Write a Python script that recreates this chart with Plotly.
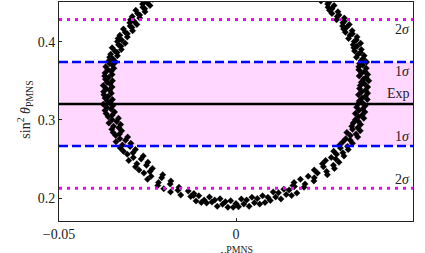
import plotly.graph_objects as go

# ---- data ----
left_x = [-0.0220,-0.0241, -0.0235,-0.0256, -0.0235,-0.0261, -0.0251,-0.0264, -0.0243,-0.0263,
          -0.0258,-0.0283, -0.0257,-0.0278, -0.0272,-0.0293, -0.0272,-0.0298, -0.0288,-0.0300,
          -0.0280,-0.0299, -0.0294,-0.0318, -0.0292,-0.0313, -0.0307,-0.0328, -0.0307,-0.0333,
          -0.0323,-0.0335, -0.0313,-0.0332, -0.0325,-0.0350, -0.0324,-0.0342, -0.0336,-0.0354,
          -0.0335,-0.0357, -0.0348,-0.0358, -0.0340,-0.0357, -0.0349,-0.0368, -0.0345,-0.0362,
          -0.0353,-0.0370, -0.0350,-0.0371, -0.0360,-0.0369, -0.0349,-0.0364, -0.0356,-0.0375,
          -0.0350,-0.0367, -0.0357,-0.0374, -0.0352,-0.0373, -0.0361,-0.0370, -0.0349,-0.0364,
          -0.0356,-0.0375, -0.0348,-0.0365, -0.0353,-0.0370, -0.0343,-0.0367, -0.0350,-0.0361,
          -0.0332,-0.0350, -0.0337,-0.0359, -0.0326,-0.0346, -0.0331,-0.0351, -0.0323,-0.0347,
          -0.0329,-0.0340, -0.0306,-0.0328, -0.0312,-0.0339, -0.0297,-0.0321, -0.0299,-0.0327,
          -0.0284,-0.0318, -0.0291,-0.0307, -0.0262,-0.0290, -0.0268,-0.0303, -0.0249,-0.0280,
          -0.0253,-0.0284, -0.0236,-0.0274, -0.0243,-0.0260, -0.0207,-0.0240, -0.0210,-0.0250,
          -0.0184,-0.0219, -0.0186,-0.0221, -0.0161,-0.0204, -0.0164,-0.0185, -0.0119,-0.0156]
left_y = [0.462,0.460, 0.458,0.456, 0.454,0.452, 0.450,0.448, 0.446,0.444,
          0.442,0.440, 0.438,0.436, 0.434,0.432, 0.430,0.428, 0.426,0.424,
          0.422,0.420, 0.418,0.416, 0.414,0.412, 0.410,0.408, 0.406,0.404,
          0.402,0.400, 0.398,0.396, 0.394,0.392, 0.390,0.388, 0.386,0.384,
          0.382,0.380, 0.378,0.376, 0.374,0.372, 0.370,0.368, 0.366,0.364,
          0.362,0.360, 0.358,0.356, 0.354,0.352, 0.350,0.348, 0.346,0.344,
          0.342,0.340, 0.338,0.336, 0.334,0.332, 0.330,0.328, 0.326,0.324,
          0.322,0.320, 0.318,0.316, 0.314,0.312, 0.310,0.308, 0.306,0.304,
          0.302,0.300, 0.298,0.296, 0.294,0.292, 0.290,0.288, 0.286,0.284,
          0.282,0.280, 0.278,0.276, 0.274,0.272, 0.270,0.268, 0.266,0.264,
          0.262,0.260, 0.258,0.256, 0.254,0.252, 0.250,0.248, 0.246,0.244,
          0.242,0.240, 0.238,0.236, 0.234,0.232, 0.230,0.228, 0.226,0.224,
          0.222,0.220, 0.218,0.216, 0.214,0.212, 0.210,0.208, 0.206,0.204]

bottom_x = [-0.0135,-0.0128, -0.0120,-0.0113, -0.0105,-0.0098, -0.0090,-0.0083, -0.0075,-0.0068,
            -0.0060,-0.0053, -0.0045,-0.0038, -0.0030,-0.0023, -0.0015,-0.0008, 0.0000,0.0007,
            0.0015,0.0022, 0.0030,0.0037, 0.0045,0.0052, 0.0060,0.0067, 0.0075,0.0082,
            0.0090,0.0097, 0.0105,0.0112, 0.0120,0.0127, 0.0135,0.0142, 0.0150,0.0157, 0.0165,0.0172]
bottom_y = [0.2090,0.2020, 0.2035,0.1965, 0.2030,0.1945, 0.1977,0.1937, 0.2015,0.1950,
            0.1975,0.1895, 0.1992,0.1922, 0.1955,0.1885, 0.1968,0.1883, 0.1930,0.1890,
            0.1990,0.1925, 0.1975,0.1895, 0.2012,0.1942, 0.1995,0.1925, 0.2030,0.1945,
            0.2010,0.1970, 0.2080,0.2015, 0.2070,0.1990, 0.2115,0.2045, 0.2105,0.2035, 0.2150,0.2065]

right_x = [0.0192,0.0161, 0.0195,0.0164, 0.0220,0.0182, 0.0221,0.0204, 0.0258,0.0230,
           0.0256,0.0221, 0.0278,0.0247, 0.0275,0.0244, 0.0291,0.0253, 0.0282,0.0269,
           0.0305,0.0284, 0.0302,0.0276, 0.0317,0.0295, 0.0315,0.0293, 0.0329,0.0302,
           0.0323,0.0310, 0.0344,0.0323, 0.0339,0.0313, 0.0351,0.0329, 0.0344,0.0327,
           0.0352,0.0331, 0.0346,0.0337, 0.0361,0.0346, 0.0356,0.0337, 0.0364,0.0347,
           0.0358,0.0341, 0.0365,0.0344, 0.0357,0.0348, 0.0371,0.0356, 0.0365,0.0346,
           0.0372,0.0355, 0.0366,0.0349, 0.0372,0.0351, 0.0363,0.0354, 0.0375,0.0360,
           0.0367,0.0348, 0.0372,0.0355, 0.0364,0.0347, 0.0368,0.0347, 0.0358,0.0349,
           0.0369,0.0354, 0.0359,0.0340, 0.0362,0.0345, 0.0352,0.0335, 0.0354,0.0333,
           0.0342,0.0331, 0.0352,0.0334, 0.0340,0.0318, 0.0342,0.0322, 0.0329,0.0309,
           0.0328,0.0304, 0.0312,0.0301, 0.0320,0.0302, 0.0306,0.0284, 0.0306,0.0286,
           0.0291,0.0271, 0.0288,0.0264, 0.0271,0.0260, 0.0277,0.0259, 0.0262,0.0240,
           0.0262,0.0242, 0.0247,0.0227, 0.0245,0.0221]
right_y = [0.214,0.216, 0.218,0.220, 0.222,0.224, 0.226,0.228, 0.230,0.232,
           0.234,0.236, 0.238,0.240, 0.242,0.244, 0.246,0.248, 0.250,0.252,
           0.254,0.256, 0.258,0.260, 0.262,0.264, 0.266,0.268, 0.270,0.272,
           0.274,0.276, 0.278,0.280, 0.282,0.284, 0.286,0.288, 0.290,0.292,
           0.294,0.296, 0.298,0.300, 0.302,0.304, 0.306,0.308, 0.310,0.312,
           0.314,0.316, 0.318,0.320, 0.322,0.324, 0.326,0.328, 0.330,0.332,
           0.334,0.336, 0.338,0.340, 0.342,0.344, 0.346,0.348, 0.350,0.352,
           0.354,0.356, 0.358,0.360, 0.362,0.364, 0.366,0.368, 0.370,0.372,
           0.374,0.376, 0.378,0.380, 0.382,0.384, 0.386,0.388, 0.390,0.392,
           0.394,0.396, 0.398,0.400, 0.402,0.404, 0.406,0.408, 0.410,0.412,
           0.414,0.416, 0.418,0.420, 0.422,0.424, 0.426,0.428, 0.430,0.432,
           0.434,0.436, 0.438,0.440, 0.442,0.444, 0.446,0.448, 0.450,0.452,
           0.454,0.456, 0.458,0.460, 0.462,0.464]

exp_value = 0.3202
one_sigma = [0.2665, 0.3739]
two_sigma = [0.2128, 0.4281]

x_ticks = [-0.05, 0, 0.05]
x_tick_labels = ["\u22120.05", "0", "0.05"]
y_ticks = [0.2, 0.3, 0.4]
y_tick_labels = ["0.2", "0.3", "0.4"]

FONT = "Liberation Serif"
TXT = "#222"

fig = go.Figure()

# pink 1-sigma band
fig.add_shape(type="rect", xref="paper", yref="y", x0=0, x1=1,
              y0=one_sigma[0], y1=one_sigma[1],
              fillcolor="rgb(255,215,255)", line_width=0, layer="below")
# lines
for v in two_sigma:
    fig.add_shape(type="line", xref="paper", yref="y", x0=0, x1=1, y0=v, y1=v,
                  line=dict(color="rgb(255,0,255)", width=3, dash="3px,5px"))
for v in one_sigma:
    fig.add_shape(type="line", xref="paper", yref="y", x0=0, x1=1, y0=v, y1=v,
                  line=dict(color="rgb(0,0,255)", width=2.5, dash="9px,4px"))
fig.add_shape(type="line", xref="paper", yref="y", x0=0, x1=1, y0=exp_value, y1=exp_value,
              line=dict(color="black", width=2.5))

xs = left_x + bottom_x + right_x
ys = left_y + bottom_y + right_y
fig.add_trace(go.Scatter(x=xs, y=ys, mode="markers",
                         marker=dict(symbol="diamond", size=5, color="black",
                                     line=dict(width=0.3, color="black")),
                         showlegend=False, hoverinfo="skip"))

# right-side labels
labels = [(two_sigma[1], "2<i>σ</i>", -10), (one_sigma[1], "1<i>σ</i>", -9),
          (exp_value, "Exp", 11), (one_sigma[0], "1<i>σ</i>", 10),
          (two_sigma[0], "2<i>σ</i>", 9)]
for v, t, dy in labels:
    fig.add_annotation(x=1, xref="paper", y=v, yref="y", text=t, showarrow=False,
                       xanchor="right", yanchor="middle", xshift=-1, yshift=dy,
                       font=dict(family=FONT, size=14, color=TXT))

# x-axis title (cut by the bottom edge as in the reference)
fig.add_annotation(x=0.5, xref="paper", y=-0.095, yref="paper", yanchor="top",
                   text="<i>x</i><sup>PMNS</sup>", showarrow=False,
                   font=dict(family=FONT, size=14, color=TXT))
# y-axis title
fig.add_annotation(x=-0.095, xref="paper", y=0.51, yref="paper", xanchor="center",
                   yanchor="middle", textangle=-90,
                   text="sin<sup>2</sup> <i>θ</i><sub>PMNS</sub>", showarrow=False,
                   font=dict(family=FONT, size=14, color=TXT))

fig.update_layout(
    width=425, height=253,
    margin=dict(l=59, r=12, t=2, b=32, autoexpand=False),
    paper_bgcolor="white", plot_bgcolor="white",
    font=dict(family=FONT, size=14, color=TXT),
    xaxis=dict(range=[-0.05, 0.05], tickvals=x_ticks, ticktext=x_tick_labels,
               showgrid=False, zeroline=False, showline=True, linecolor=TXT,
               linewidth=1, mirror=True, ticks="inside", ticklen=3, tickcolor=TXT,
               automargin=False),
    yaxis=dict(range=[0.1708, 0.4506], tickvals=y_ticks, ticktext=y_tick_labels,
               showgrid=False, zeroline=False, showline=True, linecolor=TXT,
               linewidth=1, mirror=True, ticks="inside", ticklen=3, tickcolor=TXT,
               automargin=False),
)

fig.write_html("out.html", config={"displayModeBar": False},
               post_script="document.body.style.margin='0px';document.body.style.padding='0px';")
